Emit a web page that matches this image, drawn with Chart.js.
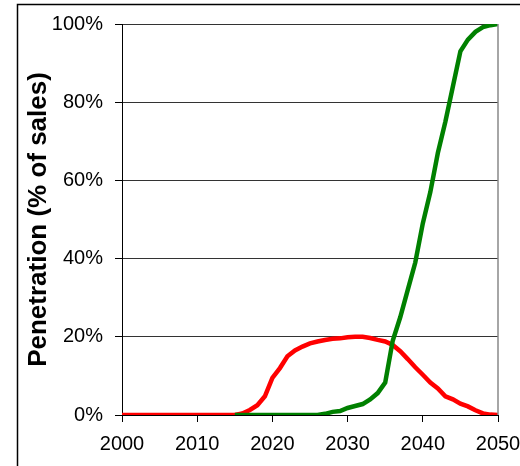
<!DOCTYPE html>
<html>
<head>
<meta charset="utf-8">
<script src="https://cdn.jsdelivr.net/npm/chart.js@4"></script>
<style>
  html, body { margin: 0; padding: 0; background: #fff; }
  #wrap { width: 520px; height: 466px; }
</style>
</head>
<body>
<div id="wrap"><canvas id="penChart" width="520" height="466"></canvas></div>
<script>
// years shown on the x axis
var years = [];
for (var y = 2000; y <= 2050; y++) years.push(y);

// red series, 2000..2050 (% of sales)
var redValues = [0, 0, 0, 0, 0, 0, 0, 0, 0, 0,
                 0, 0, 0, 0, 0, 0, 0.4, 1.3, 2.5, 4.8,
                 9.5, 12, 15, 16.5, 17.5, 18.3, 18.8, 19.2, 19.5, 19.6,
                 19.9, 20, 20, 19.7, 19.2, 18.8, 17.9, 16.3, 14.3, 12.2,
                 10.3, 8.3, 6.8, 4.8, 4.0, 2.9, 2.2, 1.2, 0.4, 0.1,
                 0];

// green series, starts in 2015 (% of sales)
var greenStart = 2015;
var greenValues = [0, 0, 0, 0, 0, 0, 0, 0, 0, 0,
                   0, 0, 0.3, 0.8, 1.0, 1.8, 2.3, 2.8, 4.0, 5.6,
                   8.3, 19, 25, 32, 39, 49, 57, 67, 75, 84,
                   93, 96, 98, 99.2, 99.7, 100];

var yTicks = [0, 20, 40, 60, 80, 100];
var xTicks = [2000, 2010, 2020, 2030, 2040, 2050];

function toPoints(startYear, values) {
    return values.map(function (v, i) { return { x: startYear + i, y: v }; });
}

// outer frame and right edge of the plot
var framePlugin = {
    id: 'frame',
    beforeDraw: function (chart) {
        var ctx = chart.ctx;
        ctx.save();
        ctx.fillStyle = '#fff';
        ctx.fillRect(0, 0, chart.width, chart.height);
        ctx.strokeStyle = '#000';
        ctx.lineWidth = 1.5;
        ctx.beginPath();
        ctx.moveTo(17.5, 466);
        ctx.lineTo(17.5, 4.5);
        ctx.lineTo(520, 4.5);
        ctx.stroke();
        ctx.restore();
    },
    afterDraw: function (chart) {
        var a = chart.chartArea;
        var ctx = chart.ctx;
        ctx.save();
        ctx.strokeStyle = '#888';
        ctx.lineWidth = 1.5;
        ctx.beginPath();
        ctx.moveTo(a.right, a.top);
        ctx.lineTo(a.right, a.bottom);
        ctx.stroke();
        ctx.restore();
    }
};

var ctx = document.getElementById('penChart').getContext('2d');
var penChart = new Chart(ctx, {
    type: 'line',
    data: {
        datasets: [
            {
                data: toPoints(greenStart, greenValues),
                borderColor: '#008000',
                borderWidth: 4.5,
                pointRadius: 0,
                tension: 0
            },
            {
                data: toPoints(2000, redValues),
                borderColor: '#ff0000',
                borderWidth: 4.5,
                pointRadius: 0,
                tension: 0
            }
        ]
    },
    options: {
        responsive: false,
        animation: false,
        devicePixelRatio: 1,
        layout: { padding: { top: 22, right: 22, bottom: 0, left: 0 } },
        plugins: {
            legend: { display: false },
            tooltip: { enabled: false }
        },
        scales: {
            x: {
                type: 'linear',
                min: 2000,
                max: 2050,
                afterBuildTicks: function (scale) {
                    scale.ticks = xTicks.map(function (v) { return { value: v }; });
                },
                afterFit: function (scale) {
                    scale.height = 51;
                    scale.paddingRight = 10;
                },
                grid: {
                    drawOnChartArea: false,
                    drawTicks: true,
                    tickLength: 7,
                    color: '#000'
                },
                border: { color: '#000', width: 1 },
                ticks: {
                    color: '#000',
                    padding: 10,
                    maxRotation: 0,
                    font: { family: '"Liberation Sans", Arial, sans-serif', size: 20 },
                    callback: function (v) { return String(v); }
                }
            },
            y: {
                min: 0,
                max: 100,
                afterBuildTicks: function (scale) {
                    scale.ticks = yTicks.map(function (v) { return { value: v }; });
                },
                afterFit: function (scale) { scale.width = 122; },
                grid: {
                    color: '#333',
                    lineWidth: 1,
                    tickLength: 7,
                    tickColor: '#000'
                },
                border: { color: '#000', width: 1 },
                ticks: {
                    color: '#000',
                    padding: 12,
                    font: { family: '"Liberation Sans", Arial, sans-serif', size: 20 },
                    callback: function (v) { return v + '%'; }
                },
                title: {
                    display: true,
                    text: 'Penetration (% of sales)',
                    color: '#000',
                    padding: { top: 23, bottom: 0 },
                    font: { family: '"Liberation Sans", Arial, sans-serif', size: 26, weight: 'bold' }
                }
            }
        }
    },
    plugins: [framePlugin]
});
</script>
</body>
</html>
